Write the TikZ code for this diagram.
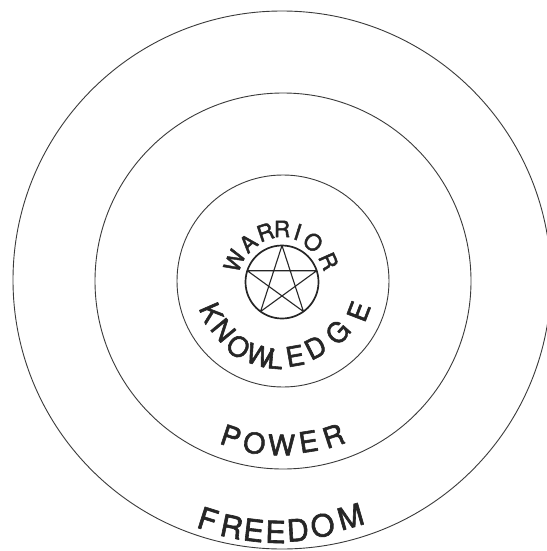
\documentclass[tikz,border=0pt]{standalone}
\usepackage{fontspec}
\setmainfont[FakeBold=2]{TeX Gyre Heros}
\definecolor{ink}{HTML}{262626}
\definecolor{rim}{HTML}{3A3A3A}
\begin{document}
\begin{tikzpicture}[x=1pt,y=1pt,line cap=round,line join=round,
  ring/.style={draw=rim,line width=0.9pt},
  starline/.style={draw=ink,line width=1.1pt},
  lt/.style={inner sep=0pt,outer sep=0pt,text=ink,anchor=center},
  big/.style={lt,font=\fontsize{28.5}{28.5}\selectfont},
  huge/.style={lt,font=\fontsize{30.5}{30.5}\selectfont},
  mid/.style={lt,font=\fontsize{27.5}{27.5}\selectfont},
  small/.style={lt,font=\fontsize{22.5}{22.5}\selectfont}]
\useasboundingbox[fill=white] (0,0) rectangle (546,-551);
% rings
\coordinate (C) at (283,-281);
\coordinate (S) at (282,-282);
\draw[ring] (282,-280) circle[radius=269];
\draw[ring] (283,-281) circle[radius=188];
\draw[ring] (283,-281) circle[radius=106];
% pentacle
\begin{scope}[shift={(S)}]
  \draw[ink,line width=1.7pt] (0,0) circle[radius=36.5];
  \draw[starline] (90:36.5) -- (234:36.5) -- (18:36.5) -- (162:36.5) -- (306:36.5) -- cycle;
  % WARRIOR (tops outward)
  \foreach \l/\a/\r [count=\i] in {W/156/52,A/131/51.5,R/108.5/52.5,R/90/53,I/72.5/52.5,O/52/50.5,R/24/51}
    \node[small,rotate=\a-90,name=w\i] at (\a:\r) {\l};
  % KNOWLEDGE (tops inward)
  \foreach \l/\a/\r [count=\i] in {K/203.5/77,N/219.5/76,O/236/78,W/253/77,L/265/77,E/280/75,D/297/73.5,G/318/75,E/339/82}
    \node[mid,rotate=\a+90,name=k\i] at (\a:\r) {\l};
\end{scope}
\begin{scope}[shift={(C)}]
  % POWER
  \foreach \l/\a/\r [count=\i] in {P/251.5/164,O/260/164.5,W/269.5/164,E/279/162.5,R/288/163}
    \node[big,rotate=\a+90,name=p\i] at (\a:\r) {\l};
  % FREEDOM
  \foreach \l/\a/\r [count=\i] in {F/252.5/250,R/258.2/251,E/263.3/251,E/268.3/251,D/273.4/249.5,O/279.2/247.5,M/286/245}
    \node[huge,rotate=\a+90,name=f\i] at (\a:\r) {\l};
\end{scope}
\end{tikzpicture}
\end{document}
